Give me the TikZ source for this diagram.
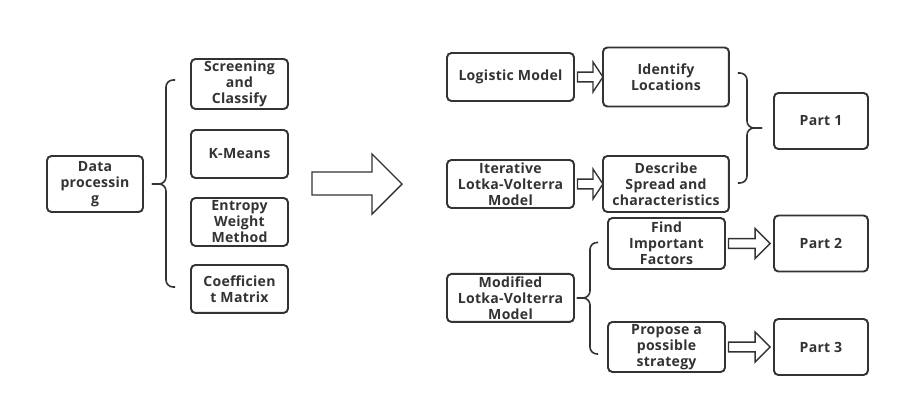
\documentclass[tikz,border=0pt]{standalone}
\usepackage{fontspec}
\setmainfont{Open Sans}[LetterSpace=2]
\usepackage{tikz}
\usetikzlibrary{arrows.meta,positioning,calc}

\definecolor{inkgray}{HTML}{333333}

% hollow block arrow from one node to the next
\newcommand{\hollowarrow}[4]{%
  \draw[hollow] let \p1=(#1.east), \p2=(#2.west) in
    (\x1+2pt,\y1+2.8pt) -- (\x2-#3-#4,\y1+2.8pt) -- (\x2-#3-#4,\y1+8.5pt)
    -- (\x2-#4,\y1) -- (\x2-#3-#4,\y1-8.5pt) -- (\x2-#3-#4,\y1-2.8pt)
    -- (\x1+2pt,\y1-2.8pt) -- cycle;}

\begin{document}
\begin{tikzpicture}[
  x=0.02cm, y=-0.02cm,
  box/.style={rectangle, draw=inkgray, line width=1.1pt, rounded corners=2.5pt,
              align=center, inner sep=0pt, outer sep=0pt, text=inkgray,
              font=\fontsize{8}{9.1}\selectfont\bfseries},
  col/.style={box, minimum width=1.94cm, minimum height=0.96cm},
  model/.style={box, minimum width=2.54cm, minimum height=0.96cm},
  part/.style={box, minimum width=1.88cm, minimum height=1.12cm},
  hollow/.style={draw=inkgray, line width=0.8pt, fill=white},
  brace/.style={draw=inkgray, line width=0.9pt, rounded corners=4pt}
]
\useasboundingbox (0,0) rectangle (900,406);

% left part
\node[box, minimum width=1.92cm, minimum height=1.12cm] (data) at (95,184) {Data\\processin\\g};
\node[col, minimum height=1.0cm] (screen) at (239.5,84) {Screening\\and\\Classify};
\node[col, below=0.42cm of screen] (kmeans) {K-Means};
\node[col, below=0.40cm of kmeans] (entropy) {Entropy\\Weight\\Method};
\node[col, below=0.38cm of entropy] (coef) {Coefficien\\t Matrix};

\coordinate (tipA) at ($(data.east)+(9,0)$);
\draw[brace] ($(screen.west)+(-16,-4)$) -| ($(tipA)+(14,0)$) -- (tipA);
\draw[brace] ($(coef.west)+(-16,-2)$) -| ($(tipA)+(14,0)$) -- (tipA);

% big arrow
\draw[hollow] (312,172) -- (372,172) -- (372,154) -- (402,184) -- (372,214)
  -- (372,195) -- (312,195) -- cycle;

% models
\node[model] (logistic) at (510.5,77) {Logistic Model};
\node[model, below=1.18cm of logistic] (iter) {Iterative\\Lotka-Volterra\\Model};
\node[model, below=1.32cm of iter] (modified) {Modified\\Lotka-Volterra\\Model};

\node[box, minimum width=2.52cm, minimum height=1.18cm, right=0.58cm of logistic] (identify) {Identify\\Locations};
\node[box, minimum width=2.52cm, minimum height=1.12cm, right=0.58cm of iter] (describe) {Describe\\Spread and\\characteristics};
\node[box, minimum width=2.34cm, minimum height=1.02cm] (find) at (666.5,243.5) {Find\\Important\\Factors};
\node[box, minimum width=2.34cm, minimum height=1.0cm, below=1.06cm of find] (propose) {Propose a\\possible\\strategy};

% parts
\node[part] (part1) at (821,121) {Part 1};
\node[part, right=0.98cm of find] (part2) {Part 2};
\node[part, right=0.98cm of propose] (part3) {Part 3};

\hollowarrow{logistic}{identify}{5.7pt}{0pt}
\hollowarrow{iter}{describe}{5.7pt}{0pt}
\hollowarrow{find}{part2}{8.5pt}{2.2pt}
\hollowarrow{propose}{part3}{8.5pt}{2.2pt}

\coordinate (tipB) at ($(part1.west)+(-12,7)$);
\draw[brace] ($(identify.east)+(9,-4)$) -| ($(tipB)+(-15,0)$) -- (tipB);
\draw[brace] ($(describe.east)+(9,-1)$) -| ($(tipB)+(-15,0)$) -- (tipB);

\coordinate (tipC) at ($(modified.east)+(3,0)$);
\draw[brace] ($(find.west)+(-10,-1)$) -| ($(tipC)+(13,0)$) -- (tipC);
\draw[brace] ($(propose.west)+(-10,7)$) -| ($(tipC)+(13,0)$) -- (tipC);
\end{tikzpicture}
\end{document}
